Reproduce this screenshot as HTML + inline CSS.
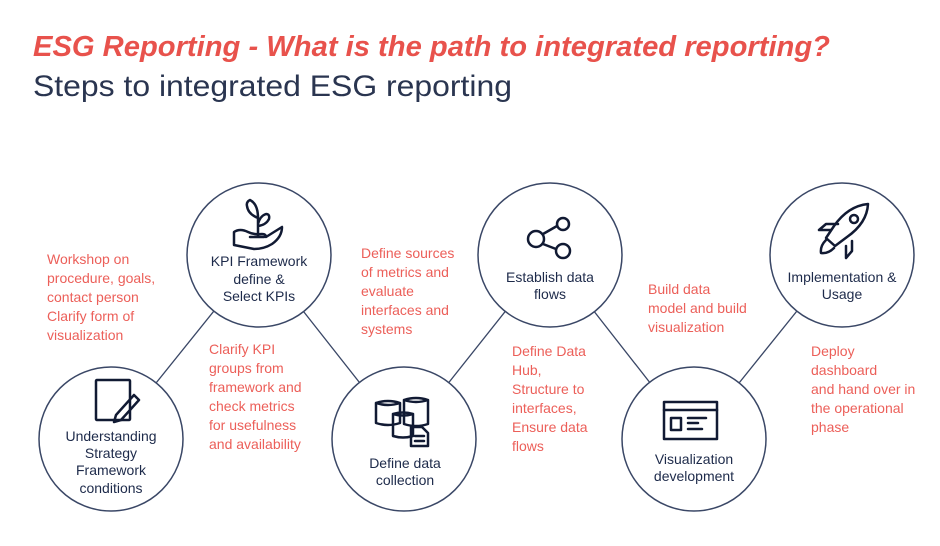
<!DOCTYPE html>
<html><head><meta charset="utf-8"><style>
html,body{margin:0;padding:0;background:#fff;}
svg{display:block;}
.r{font-family:"Liberation Sans",sans-serif;font-size:14px;fill:#ec5f59;}
.n{font-family:"Liberation Sans",sans-serif;font-size:14px;fill:#1d2a4a;text-anchor:middle;}
</style></head><body>
<svg width="940" height="546" viewBox="0 0 940 546" xmlns="http://www.w3.org/2000/svg">
<text x="33" y="56" font-family="Liberation Sans,sans-serif" font-size="29" font-weight="bold" font-style="italic" fill="#e8524c" textLength="797" lengthAdjust="spacingAndGlyphs">ESG Reporting - What is the path to integrated reporting?</text>
<text x="33" y="96" font-family="Liberation Sans,sans-serif" font-size="30" fill="#2a3550" textLength="479" lengthAdjust="spacingAndGlyphs">Steps to integrated ESG reporting</text>
<g stroke="#3a4766" stroke-width="1.3">
<line x1="111" y1="439" x2="259" y2="255"/>
<line x1="259" y1="255" x2="404" y2="439"/>
<line x1="404" y1="439" x2="550" y2="255"/>
<line x1="550" y1="255" x2="694" y2="439"/>
<line x1="694" y1="439" x2="842" y2="255"/>
</g>
<g fill="#fff" stroke="#3a4766" stroke-width="1.5">
<circle cx="111" cy="439" r="72"/>
<circle cx="259" cy="255" r="72"/>
<circle cx="404" cy="439" r="72"/>
<circle cx="550" cy="255" r="72"/>
<circle cx="694" cy="439" r="72"/>
<circle cx="842" cy="255" r="72"/>
</g>
<g fill="none" stroke="#111a33" stroke-width="2.5" stroke-linejoin="round" stroke-linecap="round">
<rect x="96" y="380" width="34" height="40" rx="1"/>
<path d="M116 415 l18 -20 l5 5 l-18 20 l-7 2 z"/>
<!-- plant -->
<path d="M234 232 q6 -4 14 0 q6 3 14 2 q4 0 4 3 l16 -10 q0 10 -10 17 q-8 5 -18 5 l-20 -4 z"/>
<path d="M250 237 h14 M258 236 v-20 M258 218 q-10 -4 -11 -12 q-1 -4 3 -6 q8 4 8 18 M258 224 q2 -8 8 -10 q4 0 3 5 q-3 6 -11 7"/>
<!-- databases -->
<path d="M376 403 v20 q12 4 24 0 v-20 M376 403 q12 -4 24 0 q-12 4 -24 0"/>
<path d="M404 400 v24 q12 4 24 0 v-24 M404 400 q12 -4 24 0 q-12 4 -24 0"/>
<path d="M393 414 v22 q10 3 20 0 v-22 M393 414 q10 -3 20 0 q-10 3 -20 0"/>
<path d="M411 427 h11 l6 6 v13 h-17 z M415 436 h9 M415 441 h9"/>
<circle cx="536" cy="239" r="8"/>
<circle cx="563" cy="224" r="6"/>
<circle cx="563" cy="251" r="7"/>
<path d="M543 234 l14 -8 M543 244 l13 5"/>
<rect x="664" y="402" width="53" height="37"/>
<path d="M664 410 h53 M671 418 h10 v12 h-10 z M688 418 h18 M688 423 h10 M688 429 h14"/>
<!-- rocket -->
<path d="M868 204 q-20 2 -34 22 l-8 12 l9 8 l12 -9 q20 -14 21 -33 z"/>
<circle cx="854" cy="219" r="4"/>
<path d="M838 224 h-12 l-7 6 h12 M852 241 v10 l-6 7 v-12 M826 240 q-6 6 -5 13 q7 1 13 -5"/>
</g>
<text class="n"><tspan x="111" y="441">Understanding</tspan><tspan x="111" y="458">Strategy</tspan><tspan x="111" y="475">Framework</tspan><tspan x="111" y="493">conditions</tspan></text>
<text class="n"><tspan x="259" y="266">KPI Framework</tspan><tspan x="259" y="284">define &amp;</tspan><tspan x="259" y="301">Select KPIs</tspan></text>
<text class="n"><tspan x="405" y="468">Define data</tspan><tspan x="405" y="485">collection</tspan></text>
<text class="n"><tspan x="550" y="282">Establish data</tspan><tspan x="550" y="299">flows</tspan></text>
<text class="n"><tspan x="694" y="464">Visualization</tspan><tspan x="694" y="481">development</tspan></text>
<text class="n"><tspan x="842" y="282">Implementation &amp;</tspan><tspan x="842" y="299">Usage</tspan></text>
<text class="r"><tspan x="47" y="264">Workshop on</tspan><tspan x="47" y="283">procedure, goals,</tspan><tspan x="47" y="302">contact person</tspan><tspan x="47" y="321">Clarify form of</tspan><tspan x="47" y="340">visualization</tspan></text>
<text class="r"><tspan x="209" y="354">Clarify KPI</tspan><tspan x="209" y="373">groups from</tspan><tspan x="209" y="392">framework and</tspan><tspan x="209" y="411">check metrics</tspan><tspan x="209" y="430">for usefulness</tspan><tspan x="209" y="449">and availability</tspan></text>
<text class="r"><tspan x="361" y="258">Define sources</tspan><tspan x="361" y="277">of metrics and</tspan><tspan x="361" y="296">evaluate</tspan><tspan x="361" y="315">interfaces and</tspan><tspan x="361" y="334">systems</tspan></text>
<text class="r"><tspan x="512" y="356">Define Data</tspan><tspan x="512" y="375">Hub,</tspan><tspan x="512" y="394">Structure to</tspan><tspan x="512" y="413">interfaces,</tspan><tspan x="512" y="432">Ensure data</tspan><tspan x="512" y="451">flows</tspan></text>
<text class="r"><tspan x="648" y="294">Build data</tspan><tspan x="648" y="313">model and build</tspan><tspan x="648" y="332">visualization</tspan></text>
<text class="r"><tspan x="811" y="356">Deploy</tspan><tspan x="811" y="375">dashboard</tspan><tspan x="811" y="394">and hand over in</tspan><tspan x="811" y="413">the operational</tspan><tspan x="811" y="432">phase</tspan></text>
</svg>
</body></html>
